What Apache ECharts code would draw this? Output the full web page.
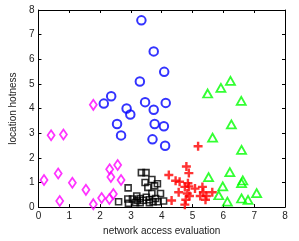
<!DOCTYPE html>
<html><head><meta charset="utf-8">
<script src="https://cdn.jsdelivr.net/npm/echarts@6/dist/echarts.min.js"></script>
<style>html,body{margin:0;padding:0;background:#fff}#c{width:299px;height:241px}</style>
</head><body><div id="c"></div>
<script>
const xTicks = [0,1,2,3,4,5,6,7,8];
const yTicks = [0,1,2,3,4,5,6,7,8];
const xName = 'network access evaluation';
const yName = 'location hotness';

const bluePts = [[3.34,7.58],[3.74,6.32],[4.08,5.49],[3.29,5.10],[2.36,4.50],[2.12,4.20],[3.46,4.26],[4.13,4.23],[2.86,4.00],[3.74,3.95],[2.98,3.76],[2.55,3.37],[3.77,3.37],[4.07,3.28],[2.68,2.91],[3.70,2.75],[4.11,2.49]];
const magentaPts = [[1.78,4.15],[0.41,2.92],[0.81,2.95],[2.57,1.71],[2.31,1.54],[0.64,1.36],[2.35,1.22],[0.18,1.10],[2.68,1.10],[1.10,0.99],[1.54,0.70],[2.43,0.53],[2.05,0.37],[2.30,0.33],[0.69,0.25],[1.78,0.12]];
const blackPts = [[2.60,0.22],[2.91,0.78],[2.90,0.33],[3.05,0.33],[2.92,0.15],[3.19,0.45],[3.20,0.28],[3.30,0.35],[3.34,1.40],[3.49,1.40],[3.46,1.00],[3.40,0.28],[3.50,0.40],[3.55,0.80],[3.60,0.30],[3.68,1.12],[3.68,0.55],[3.77,0.86],[3.80,0.35],[3.86,0.95],[3.88,0.22],[3.96,0.55],[3.30,0.18],[3.60,0.18],[4.06,0.25],[3.15,0.18],[3.72,0.22]];
const redPts = [[5.18,2.47],[4.80,1.65],[4.88,1.38],[4.23,1.30],[4.45,1.07],[4.58,1.03],[4.85,0.97],[4.88,0.84],[4.75,0.82],[5.08,0.75],[5.32,0.82],[5.35,0.60],[5.64,0.60],[5.45,0.45],[4.55,0.60],[4.83,0.55],[4.32,0.27],[4.78,0.30],[4.75,0.10],[5.42,0.30],[5.25,0.45],[4.90,0.45]];
const greenPts = [[6.23,5.12],[5.92,4.84],[5.49,4.61],[6.58,4.31],[6.26,3.36],[5.65,2.82],[6.59,2.32],[5.52,1.22],[6.21,1.42],[6.63,1.08],[6.59,0.97],[5.98,0.84],[7.08,0.57],[5.85,0.48],[6.13,0.22],[6.59,0.35],[6.80,0.29]];

const chart = echarts.init(document.getElementById('c'), null, {renderer:'canvas'});
const font = 'Liberation Sans, Arial, sans-serif';
const axisBase = {
  min: 0, max: 8, interval: 1,
  axisLine: {show: true, onZero: false, lineStyle: {color: '#000', width: 1}},
  axisTick: {show: true, inside: true, length: 3, lineStyle: {color: '#000', width: 1}},
  splitLine: {show: false}
};
function ser(name, data, symbol, color, size, bw) {
  return {
    type: 'scatter', name, data, symbol, symbolSize: size,
    itemStyle: {color: 'rgba(0,0,0,0)', borderColor: color, borderWidth: bw || 2},
    emphasis: {disabled: true}, animation: false
  };
}
chart.setOption({
  animation: false,
  grid: {left: 24, right: 14, top: 10, bottom: 25, containLabel: false},
  xAxis: [
    Object.assign({}, axisBase, {type: 'value', position: 'bottom',
      name: xName, nameLocation: 'middle', nameGap: 17,
      nameTextStyle: {fontFamily: font, fontSize: 10, color: '#222'},
      axisLabel: {show: true, fontFamily: font, fontSize: 10, color: '#222', margin: 4,
        formatter: v => xTicks.includes(v) ? String(v) : ''}}),
    Object.assign({}, axisBase, {type: 'value', position: 'top', axisLabel: {show: false}})
  ],
  yAxis: [
    Object.assign({}, axisBase, {type: 'value', position: 'left',
      name: yName, nameLocation: 'middle', nameGap: 13,
      nameTextStyle: {fontFamily: font, fontSize: 10, color: '#222'},
      axisLabel: {show: true, fontFamily: font, fontSize: 10, color: '#222', margin: 4,
        formatter: v => yTicks.includes(v) ? String(v) : ''}}),
    Object.assign({}, axisBase, {type: 'value', position: 'right', axisLabel: {show: false}})
  ],
  series: [
    ser('magenta', magentaPts, 'diamond', '#ff00ff', [7, 10], 1.8),
    ser('blue', bluePts, 'circle', '#0000ff', 8.5, 2),
    ser('black', blackPts, 'rect', '#000000', 6, 1.6),
    ser('red', redPts, 'path://M0,5L10,5M5,0L5,10', '#ff0000', 9, 2.4),
    ser('green', greenPts, 'triangle', '#00ff00', [9, 8], 1.8)
  ]
});
</script></body></html>
